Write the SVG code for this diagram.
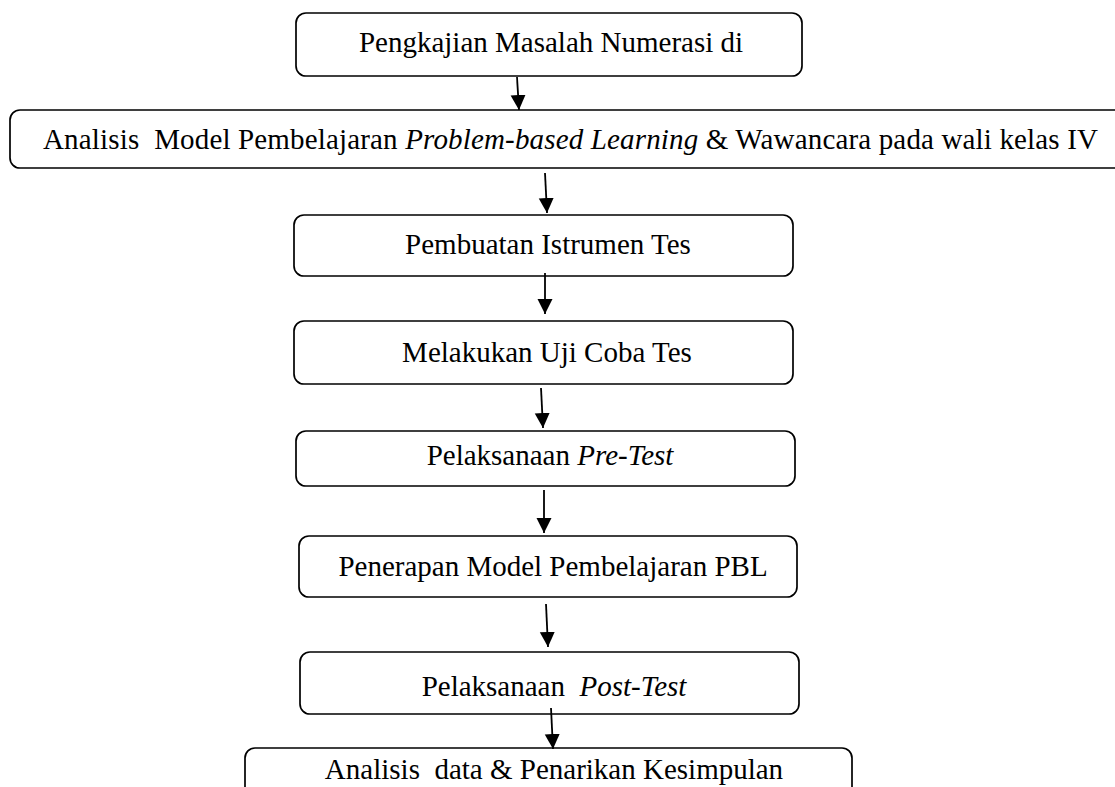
<svg xmlns="http://www.w3.org/2000/svg" width="1115" height="787" viewBox="0 0 1115 787">
<style>
.box{fill:#fff;stroke:#000;stroke-width:1.7}
.t{font-family:"Liberation Serif","Times New Roman",serif;font-size:29px;fill:#000}
.i{font-style:italic}
.c{stroke:#000;stroke-width:1.8;fill:none}
</style>
<defs>
<marker id="ah" markerUnits="userSpaceOnUse" markerWidth="16" markerHeight="16" refX="15" refY="7.5" orient="auto">
<path d="M0,0 L15,7.5 L0,15 Z" fill="#000"/>
</marker>
</defs>
<rect width="1115" height="787" fill="#fff"/>
<g id="n1"><rect class="box" x="296" y="13" width="506" height="63" rx="10"/>
<text class="t" x="551" y="52" text-anchor="middle">Pengkajian Masalah Numerasi di</text></g>
<g id="n2"><rect class="box" x="10" y="110" width="1120" height="58" rx="10"/>
<text class="t" x="43" y="149" xml:space="preserve" textLength="1055" lengthAdjust="spacing">Analisis  Model Pembelajaran <tspan class="i">Problem-based Learning</tspan> &amp; Wawancara pada wali kelas IV</text></g>
<g id="n3"><rect class="box" x="294" y="215" width="499" height="61" rx="10"/>
<text class="t" x="548" y="254" text-anchor="middle">Pembuatan Istrumen Tes</text></g>
<g id="n4"><rect class="box" x="294" y="321" width="499" height="63" rx="10"/>
<text class="t" x="547" y="362" text-anchor="middle">Melakukan Uji Coba Tes</text></g>
<g id="n5"><rect class="box" x="296" y="431" width="499" height="55" rx="10"/>
<text class="t" x="550" y="465" text-anchor="middle">Pelaksanaan <tspan class="i">Pre-Test</tspan></text></g>
<g id="n6"><rect class="box" x="299" y="536" width="498" height="61" rx="10"/>
<text class="t" x="553" y="576" text-anchor="middle">Penerapan Model Pembelajaran PBL</text></g>
<g id="n7"><rect class="box" x="300" y="652" width="499" height="62" rx="10"/>
<text class="t" x="554" y="696" text-anchor="middle" xml:space="preserve">Pelaksanaan  <tspan class="i">Post-Test</tspan></text></g>
<g id="n8"><rect class="box" x="245" y="748" width="607" height="60" rx="10"/>
<text class="t" x="554" y="779" text-anchor="middle" xml:space="preserve">Analisis  data &amp; Penarikan Kesimpulan</text></g>
<g id="connectors">
<line class="c" x1="517" y1="77" x2="519" y2="110" marker-end="url(#ah)"/>
<line class="c" x1="545" y1="173" x2="547" y2="213" marker-end="url(#ah)"/>
<line class="c" x1="545" y1="273" x2="545" y2="314" marker-end="url(#ah)"/>
<line class="c" x1="541" y1="388" x2="543" y2="428" marker-end="url(#ah)"/>
<line class="c" x1="544" y1="490" x2="544" y2="533" marker-end="url(#ah)"/>
<line class="c" x1="546" y1="604" x2="548" y2="647" marker-end="url(#ah)"/>
<line class="c" x1="551" y1="708" x2="553" y2="749" marker-end="url(#ah)"/>
</g>
</svg>
